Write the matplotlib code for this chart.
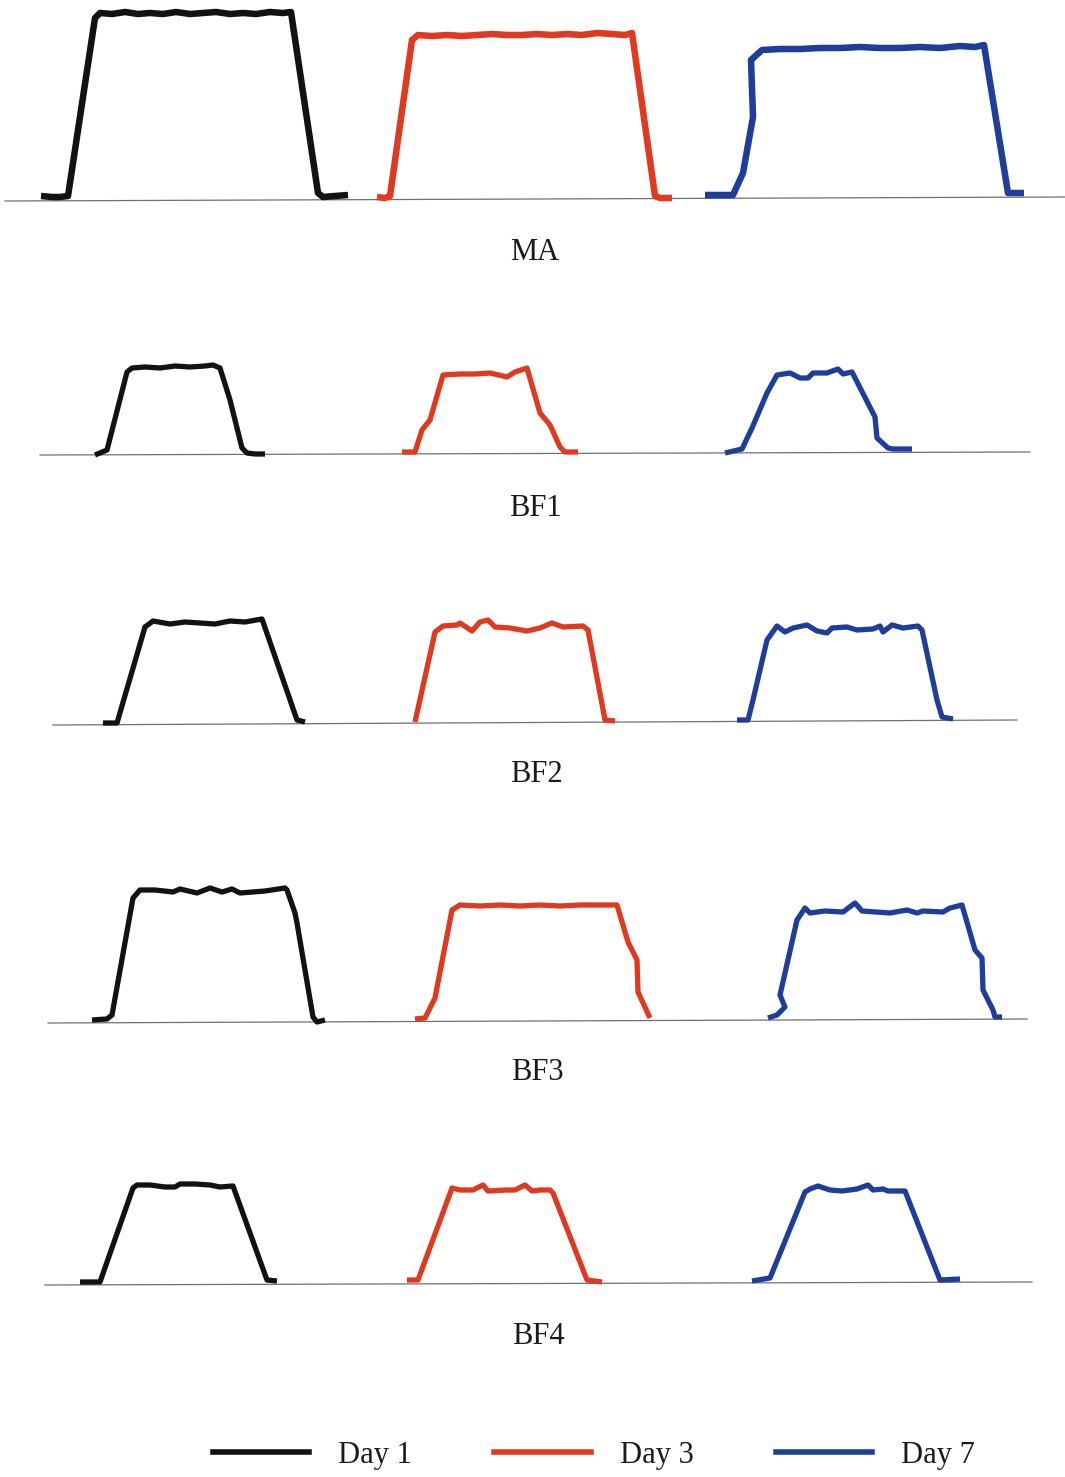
import matplotlib
matplotlib.use("Agg")
import matplotlib.pyplot as plt
from matplotlib.lines import Line2D

# ---------------- data (position along scan, height above baseline) ----------------
rows = ["MA", "BF1", "BF2", "BF3", "BF4"]
days = ["Day 1", "Day 3", "Day 7"]

# MA
ma_d1_x = [41, 52, 60, 68, 95, 100, 112, 125, 138, 150, 163, 176, 190, 203, 216, 230, 243, 256, 270, 283, 291, 318, 323, 335, 348]
ma_d1_h = [4, 3, 3, 4, 182, 187, 186, 188, 186, 187, 186, 188, 186, 187, 188, 186, 187, 186, 188, 187, 188, 7, 3, 4, 5]
ma_d3_x = [377, 385, 390, 412, 418, 432, 447, 462, 477, 492, 507, 522, 537, 552, 567, 582, 597, 612, 625, 632, 655, 660, 672]
ma_d3_h = [3, 2, 4, 160, 165, 164, 165, 164, 165, 166, 165, 165, 166, 165, 166, 165, 167, 166, 165, 167, 4, 2, 2]
ma_d7_x = [705, 720, 733, 743, 753, 751, 762, 780, 800, 820, 840, 860, 880, 900, 920, 940, 960, 975, 984, 1008, 1015, 1024]
ma_d7_h = [5, 5, 5, 27, 83, 140, 150, 151, 151, 152, 152, 153, 152, 152, 153, 152, 154, 153, 155, 7, 7, 7]

# BF1
bf1_d1_x = [95, 107, 127, 132, 145, 160, 175, 190, 205, 213, 220, 230, 242, 247, 255, 265]
bf1_d1_h = [0, 5, 83, 87, 88, 87, 89, 88, 89, 90, 87, 55, 7, 2, 1, 1]
bf1_d3_x = [402, 415, 422, 430, 443, 460, 475, 490, 507, 515, 527, 540, 550, 560, 565, 578]
bf1_d3_h = [3, 3, 25, 35, 80, 81, 81, 82, 78, 83, 87, 42, 30, 8, 3, 3]
bf1_d7_x = [725, 742, 752, 767, 777, 790, 800, 808, 813, 827, 838, 843, 852, 875, 877, 888, 893, 912]
bf1_d7_h = [2, 6, 27, 62, 80, 82, 77, 77, 82, 82, 86, 81, 83, 38, 17, 7, 6, 6]

# BF2
bf2_d1_x = [103, 117, 145, 153, 170, 185, 200, 215, 230, 245, 262, 297, 305]
bf2_d1_h = [2, 2, 98, 104, 101, 103, 102, 101, 104, 103, 106, 5, 3]
bf2_d3_x = [415, 435, 443, 457, 460, 472, 480, 488, 495, 510, 527, 540, 552, 563, 583, 588, 605, 615]
bf2_d3_h = [3, 93, 99, 100, 102, 94, 103, 105, 98, 97, 94, 97, 102, 98, 99, 95, 5, 4]
bf2_d7_x = [737, 748, 753, 767, 777, 785, 793, 807, 817, 827, 832, 847, 857, 873, 880, 883, 892, 903, 918, 922, 937, 942, 953]
bf2_d7_h = [5, 5, 25, 85, 99, 93, 97, 100, 94, 92, 97, 98, 95, 96, 99, 93, 100, 97, 99, 95, 25, 8, 6]

# BF3
bf3_d1_x = [92, 107, 112, 133, 140, 155, 173, 180, 197, 210, 222, 232, 240, 265, 285, 287, 295, 297, 313, 317, 325]
bf3_d1_h = [3, 4, 8, 125, 133, 133, 131, 134, 130, 135, 131, 134, 130, 132, 135, 133, 110, 100, 6, 1, 3]
bf3_d3_x = [415, 425, 435, 440, 452, 460, 480, 500, 520, 540, 560, 580, 600, 617, 628, 637, 638, 650]
bf3_d3_h = [4, 5, 25, 51, 113, 118, 117, 118, 117, 118, 117, 118, 118, 118, 81, 63, 31, 5]
bf3_d7_x = [768, 777, 785, 780, 797, 805, 810, 825, 843, 855, 862, 890, 907, 917, 923, 943, 950, 962, 975, 982, 983, 993, 995, 1002]
bf3_d7_h = [5, 8, 16, 28, 103, 115, 110, 112, 111, 120, 112, 110, 113, 110, 112, 111, 115, 118, 73, 65, 33, 13, 6, 6]

# BF4
bf4_d1_x = [80, 100, 133, 137, 150, 165, 175, 180, 195, 210, 220, 233, 267, 277]
bf4_d1_h = [3, 3, 97, 100, 100, 98, 98, 101, 101, 100, 98, 99, 5, 4]
bf4_d3_x = [407, 418, 452, 460, 473, 483, 488, 507, 515, 525, 532, 540, 550, 553, 587, 602]
bf4_d3_h = [5, 5, 97, 95, 95, 100, 94, 95, 95, 100, 94, 95, 95, 92, 5, 3]
bf4_d7_x = [752, 770, 805, 810, 818, 830, 842, 857, 868, 873, 883, 888, 905, 940, 960]
bf4_d7_h = [4, 7, 93, 96, 99, 95, 94, 96, 100, 95, 96, 94, 94, 5, 6]

# baseline spans: x from, x to, height at start, height at end
baseline_x = [(5, 1065), (40, 1030), (53, 1017), (48, 1027), (45, 1032)]
baseline_h = [(-1, 3), (0, 3), (0, 5), (0, 4), (0, 3)]

profiles = [
    [(ma_d1_x, ma_d1_h), (ma_d3_x, ma_d3_h), (ma_d7_x, ma_d7_h)],
    [(bf1_d1_x, bf1_d1_h), (bf1_d3_x, bf1_d3_h), (bf1_d7_x, bf1_d7_h)],
    [(bf2_d1_x, bf2_d1_h), (bf2_d3_x, bf2_d3_h), (bf2_d7_x, bf2_d7_h)],
    [(bf3_d1_x, bf3_d1_h), (bf3_d3_x, bf3_d3_h), (bf3_d7_x, bf3_d7_h)],
    [(bf4_d1_x, bf4_d1_h), (bf4_d3_x, bf4_d3_h), (bf4_d7_x, bf4_d7_h)],
]

# ---------------- style / layout ----------------
W, H, DPI = 1065, 1477, 100
colors = ["#121212", "#e0391f", "#1f3e9c"]
row_base_px = [200, 455, 725, 1023, 1285]
label_x_px = [535, 535, 536, 537, 538]
label_y_px = [252, 508, 774, 1072, 1336]
line_w = [4.7, 3.8, 3.8, 3.8, 3.8]

plt.rcParams["font.family"] = ["Liberation Serif", "DejaVu Serif"]

fig = plt.figure(figsize=(W / DPI, H / DPI), dpi=DPI)
fig.patch.set_facecolor("white")

for i, name in enumerate(rows):
    b = row_base_px[i]
    lo, hi = -10, 200
    ax = fig.add_axes([0, (H - (b - lo)) / H, 1, (hi - lo) / H])
    ax.set_xlim(0, W)
    ax.set_ylim(lo, hi)
    ax.axis("off")
    ax.plot(baseline_x[i], baseline_h[i], color="#707070", lw=0.9, zorder=1)
    for (xs, hs), c in zip(profiles[i], colors):
        ax.plot(xs, hs, color=c, lw=line_w[i], solid_joinstyle="round",
                solid_capstyle="butt", zorder=2, clip_on=False)
    fig.text(label_x_px[i] / W, 1 - label_y_px[i] / H, name, ha="center",
             va="center", fontsize=22, color="#1a1a1a")

handles = [Line2D([], [], color=c, lw=4.0) for c in colors]
fig.legend(handles, days, loc="center", bbox_to_anchor=(594 / W, 1 - 1455 / H),
           ncol=3, frameon=False, fontsize=22, handlelength=3.15,
           handletextpad=0.95, columnspacing=2.7, labelcolor="#1a1a1a")

fig.savefig("out.png", dpi=DPI, facecolor="white")
